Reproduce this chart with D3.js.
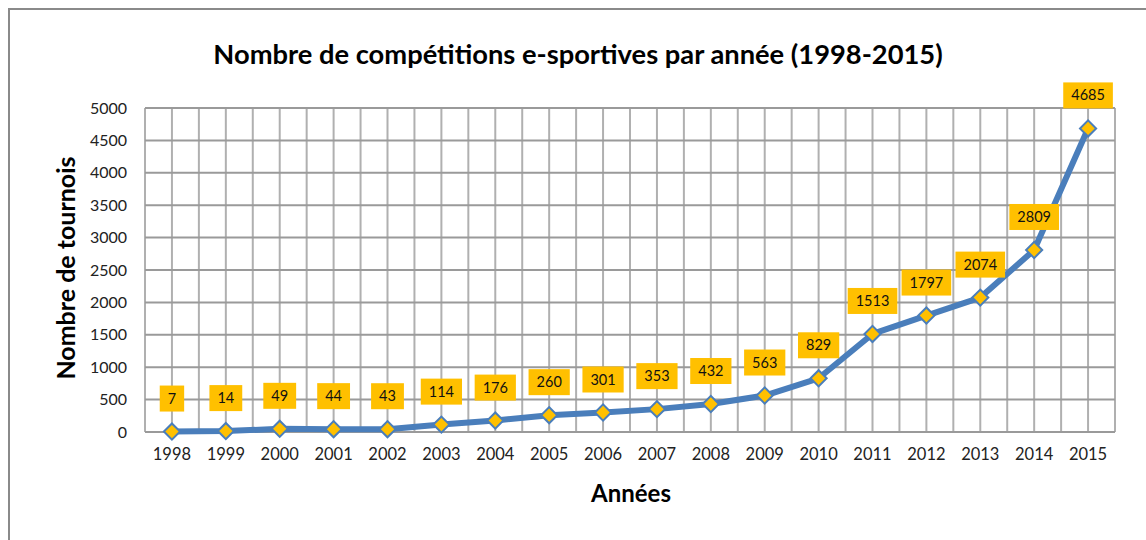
<!DOCTYPE html>
<html><head><meta charset="utf-8">
<script src="https://cdn.jsdelivr.net/npm/d3@7"></script>
<style>body{margin:0;background:#fff;} svg{display:block;font-family:Lato,"Open Sans",sans-serif;}</style>
</head><body>
<svg id="c" width="1146" height="540"></svg>
<script>
const years = ["1998","1999","2000","2001","2002","2003","2004","2005","2006","2007","2008","2009","2010","2011","2012","2013","2014","2015"];
const values = [7,14,49,44,43,114,176,260,301,353,432,563,829,1513,1797,2074,2809,4685];
const yTicks = [0,500,1000,1500,2000,2500,3000,3500,4000,4500,5000];
const title = "Nombre de compétitions e-sportives par année (1998-2015)";
const yTitle = "Nombre de tournois";
const xTitle = "Années";

const svg = d3.select("#c");
const L = 145, R = 1115, T = 108, B = 432;
const x = d3.scaleBand().domain(years).range([L, R]);
const y = d3.scaleLinear().domain([0, 5000]).range([B, T]);

// frame
svg.append("path").attr("d", "M9,540 L9,9 L1146,9").attr("fill","none").attr("stroke","#8a8a8a").attr("stroke-width",2);

// title
svg.append("text").attr("x", 578).attr("y", 64).attr("text-anchor","middle")
  .attr("font-size", 27.3).attr("font-weight","bold").attr("fill","#000").text(title);

// grid
const g = svg.append("g");
const halfLines = [];
years.forEach(d => { halfLines.push(x(d)); halfLines.push(x(d) + x.bandwidth()/2); });
halfLines.push(R);
g.selectAll("line.v").data(halfLines).join("line").attr("class","v")
  .attr("x1", d=>d).attr("x2", d=>d).attr("y1", T).attr("y2", B)
  .attr("stroke","#b0b0b0").attr("stroke-width",2);
g.selectAll("line.h").data(yTicks).join("line").attr("class","h")
  .attr("x1", L).attr("x2", R).attr("y1", d=>y(d)).attr("y2", d=>y(d))
  .attr("stroke","#9a9a9a").attr("stroke-width",2);

// y axis
const ya = svg.append("g").attr("transform", `translate(${L},0)`)
  .call(d3.axisLeft(y).tickValues(yTicks).tickSize(0).tickPadding(18).tickFormat(d3.format("d")));
ya.select(".domain").remove();
ya.selectAll("text").attr("font-size",16).attr("fill","#222").attr("font-family","Lato,sans-serif");

// x axis
const xa = svg.append("g").attr("transform", `translate(0,${B})`)
  .call(d3.axisBottom(x).tickSize(0).tickPadding(16));
xa.select(".domain").remove();
xa.selectAll("text").attr("font-size",16.5).attr("fill","#222").attr("font-family","Lato,sans-serif");

// axis titles
svg.append("text").attr("transform", `translate(75,${(T+B)/2-2}) rotate(-90)`).attr("text-anchor","middle")
  .attr("font-size",25).attr("font-weight","bold").text(yTitle);
svg.append("text").attr("x", 631).attr("y", 502).attr("text-anchor","middle")
  .attr("font-size",24).attr("font-weight","bold").text(xTitle);

// line
const cx = d => x(d) + x.bandwidth()/2;
const line = d3.line().x((d,i)=>cx(years[i])).y(d=>y(d));
svg.append("path").datum(values).attr("d", line).attr("fill","none")
  .attr("stroke","#4A7EBB").attr("stroke-width",6).attr("stroke-linejoin","round");

// markers
svg.selectAll("path.m").data(values).join("path").attr("class","m")
  .attr("d", d3.symbol(d3.symbolSquare, 130))
  .attr("transform",(d,i)=>`translate(${cx(years[i])},${y(d)}) rotate(45)`)
  .attr("fill","#FFC000").attr("stroke","#4A7EBB").attr("stroke-width",2);

// labels
const lab = svg.selectAll("g.lab").data(values).join("g").attr("class","lab")
  .attr("transform",(d,i)=>`translate(${cx(years[i])},${y(d)-33})`);
lab.append("text").attr("text-anchor","middle").attr("dy","0.35em")
  .attr("font-size",14.5).attr("fill","#111").text(d=>d);
lab.each(function(){
  const t = d3.select(this).select("text");
  const bb = t.node().getBBox();
  d3.select(this).insert("rect","text").attr("x", bb.x-8).attr("y",-13).attr("width", bb.width+16).attr("height",26).attr("fill","#FFC000");
});
</script>
</body></html>
